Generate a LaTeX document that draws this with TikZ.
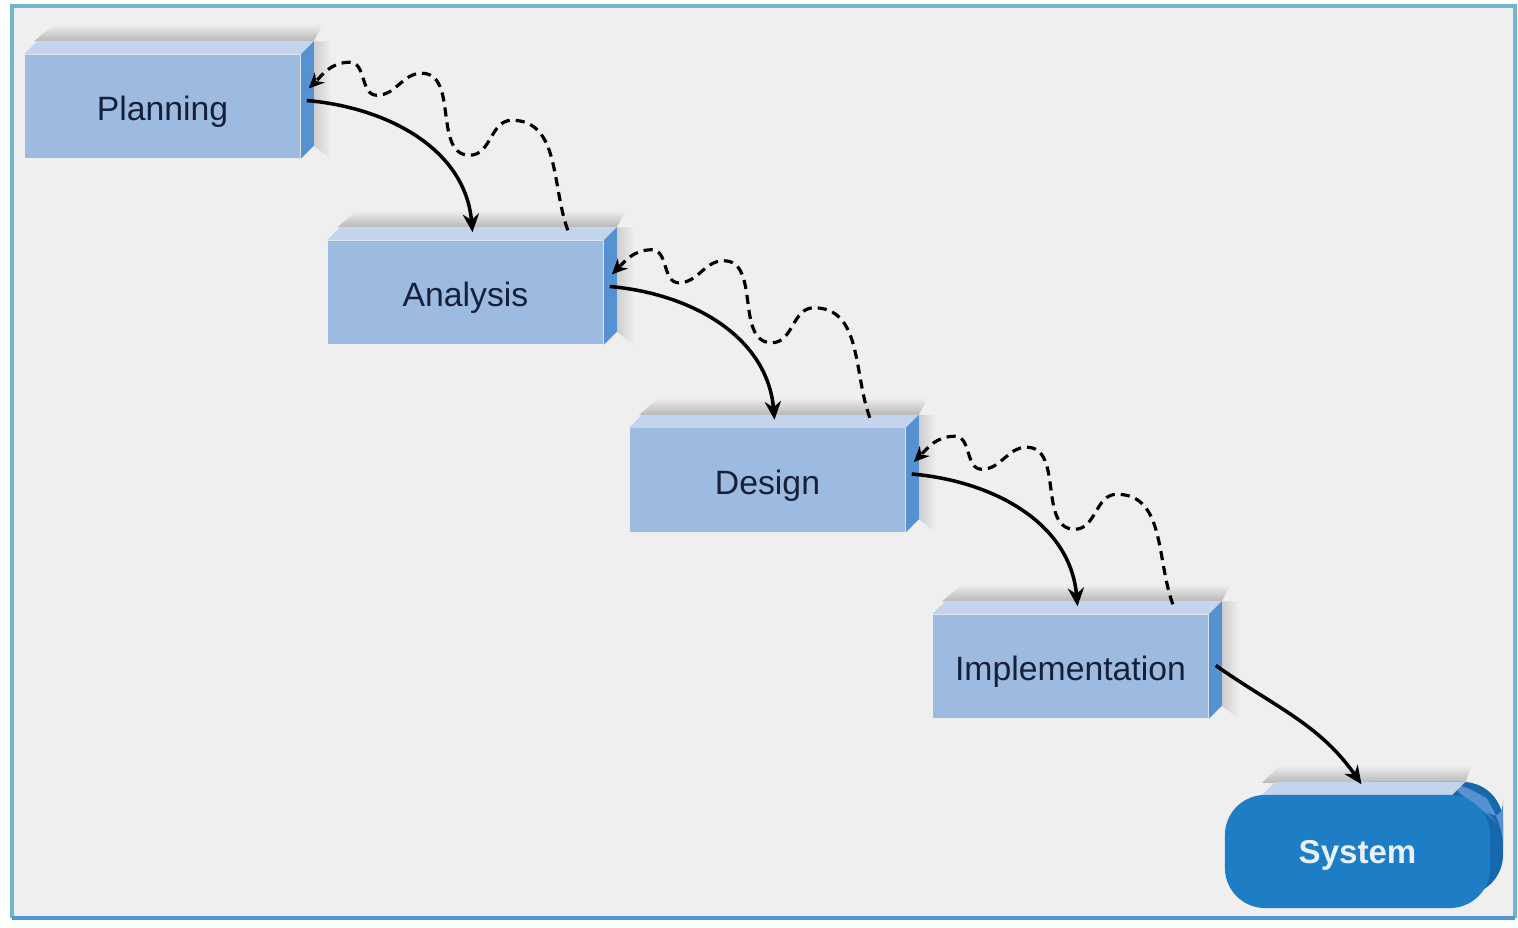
\documentclass[tikz,border=0pt]{standalone}
\usepackage{fontspec}
\setmainfont{Liberation Sans}
\usetikzlibrary{arrows.meta}
\definecolor{pagebg}{RGB}{239,239,239}
\definecolor{framecol}{RGB}{110,182,205}
\definecolor{framebot}{RGB}{80,150,215}
\definecolor{boxfront}{RGB}{157,187,224}
\definecolor{boxtop}{RGB}{196,212,236}
\definecolor{boxside}{RGB}{86,146,210}
\definecolor{boxtext}{RGB}{22,32,58}
\definecolor{sysfill}{RGB}{30,126,197}
\definecolor{sysside}{RGB}{22,104,172}
\definecolor{systext}{RGB}{232,240,250}
\tikzset{
  stage/.style={rectangle, fill=boxfront, minimum width=2.75cm, minimum height=1.03cm,
    inner sep=0pt, text height=8.2pt, text depth=0pt, text=boxtext,
    font=\fontsize{9.6}{11}\selectfont},
  product/.style={rectangle, rounded corners=0.4cm, fill=sysfill, minimum width=2.65cm,
    minimum height=1.13cm, inner sep=0pt, text height=7.1pt, text depth=0pt, text=systext,
    font=\fontsize{9.4}{11}\selectfont\bfseries},
  flow/.style={->, line width=1pt},
  loopback/.style={-{Stealth[length=4.4pt, width=4pt]}, line width=0.9pt, dash pattern=on 2.6pt off 1.7pt},
}

\begin{document}
\begin{tikzpicture}[x=0.01cm, y=0.01cm, >={Stealth[length=5.2pt, width=4.6pt]}]
  \useasboundingbox (0,0) rectangle (1518,-928);
  \fill[white] (0,0) rectangle (1518,-928);
  \fill[pagebg] (12,-6) rectangle (1515,-918);
  \draw[framecol, line width=1pt] (12,-918) -- (12,-6) -- (1515,-6) -- (1515,-918);
  \draw[framebot, line width=1.2pt] (12,-918) -- (1515,-918);

  % the four stages
  \node[stage] (plan) at (162.5,-106.5) {Planning};
  \node[stage] (anal) at (465.5,-292.5) {Analysis};
  \node[stage] (desg) at (767.5,-480) {Design};
  \node[stage] (impl) at (1070.5,-666.5) {Implementation};

  \foreach \n in {plan,anal,desg,impl}{
    \shade[top color=pagebg, bottom color=black!28]
      ([shift={(10,13)}]\n.north west) -- ([shift={(13,13)}]\n.north east)
      -- ([shift={(22,30)}]\n.north east) -- ([shift={(30,30)}]\n.north west) -- cycle;
    \shade[left color=black!20, right color=pagebg]
      ([shift={(13,13)}]\n.north east) -- ([shift={(30,13)}]\n.north east)
      -- ([shift={(30,0)}]\n.south east) -- ([shift={(13,13)}]\n.south east) -- cycle;
    \fill[boxtop] (\n.north west) -- (\n.north east)
      -- ([shift={(13,13)}]\n.north east) -- ([shift={(13,13)}]\n.north west) -- cycle;
    \fill[boxside] (\n.north east) -- (\n.south east)
      -- ([shift={(13,13)}]\n.south east) -- ([shift={(13,13)}]\n.north east) -- cycle;
  }

  % the finished system
  \shade[top color=pagebg, bottom color=black!28] (1262,-783) -- (1465,-783) -- (1472,-765) -- (1280,-765) -- cycle;
  \fill[sysside, rounded corners=0.4cm] (1330,-782) rectangle (1503,-895);
  \fill[boxside, rounded corners=0.3cm] (1440,-782) -- (1470,-782) -- (1503,-815) -- (1503,-830) -- (1480,-805) -- cycle;
  \fill[boxtop] (1262,-795) -- (1452,-795) -- (1465,-782) -- (1275,-782) -- cycle;
  \node[product] (sys) at (1357.5,-851.5) {System};

  % forward flow
  \foreach \a/\b in {plan/anal, anal/desg, desg/impl}{
    \draw[flow] ([shift={(6,6)}]\a.east) to[out=-5, in=95] ([shift={(7,8)}]\b.north);
  }
  \draw[flow] ([shift={(7,1)}]impl.east) to[out=-35, in=125] ([shift={(4,10)}]sys.north);

  % feedback
  \foreach \a/\b in {plan/anal, anal/desg, desg/impl}{
    \draw[loopback] ([shift={(-36,10)}]\b.north east) to[out=110, in=0] ++(-56,110)
      to[out=180, in=0] ++(-42,-35) to[out=180, in=0] ++(-48,82)
      to[out=180, in=0] ++(-45,-22) to[out=180, in=0] ++(-27,33)
      to[out=180, in=45] ([shift={(8,18)}]\a.east);
  }
\end{tikzpicture}
\end{document}
